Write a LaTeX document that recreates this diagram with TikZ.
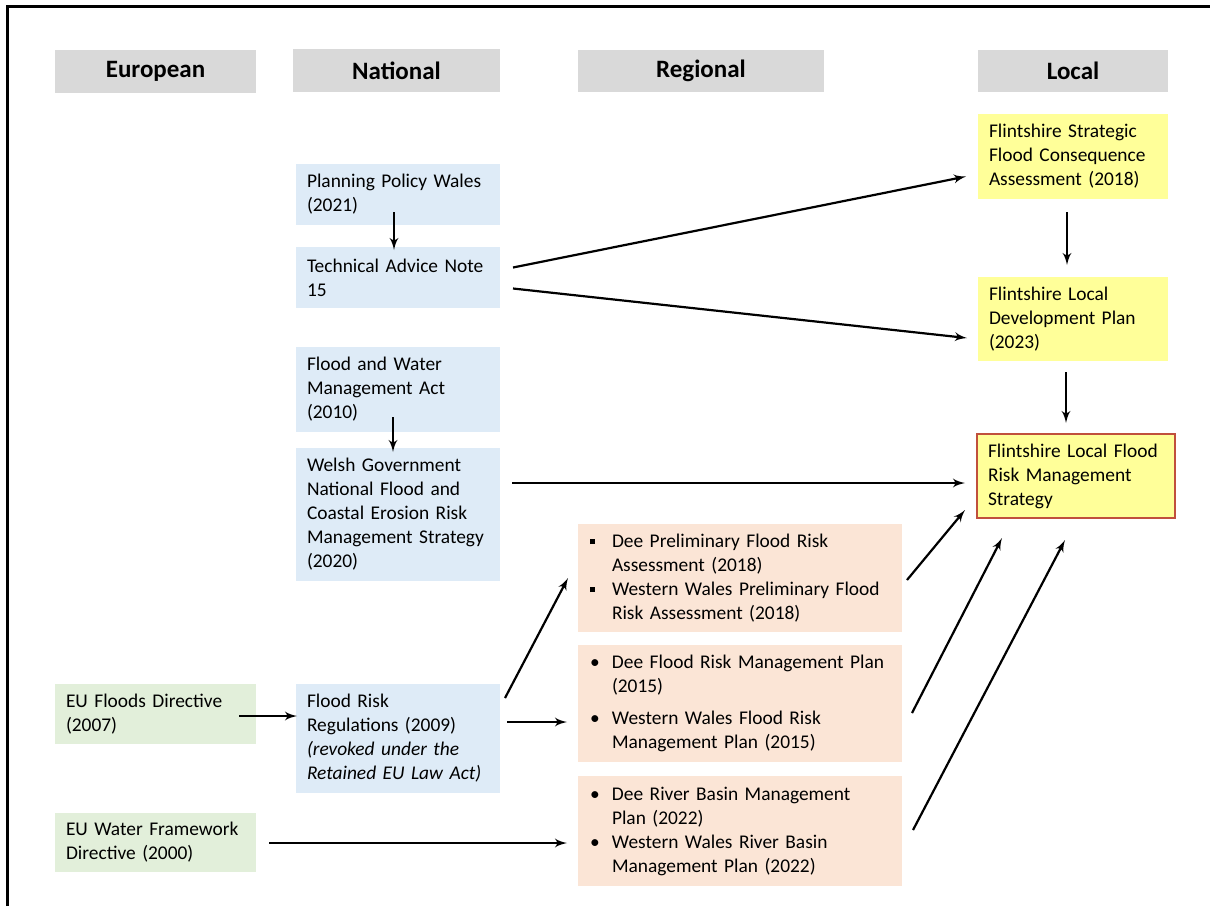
\documentclass[tikz,border=0pt]{standalone}
\usepackage{fontspec}
\setmainfont{Carlito}
\usepackage{tikz}
\usetikzlibrary{positioning}
\usetikzlibrary{arrows,calc}
\tikzset{line/.style={draw, line width=1.1pt, -latex'}}
\definecolor{hdrgray}{HTML}{D9D9D9}
\definecolor{natblue}{HTML}{DEEBF7}
\definecolor{eugreen}{HTML}{E2EFDA}
\definecolor{locyellow}{HTML}{FFFF99}
\definecolor{regpeach}{HTML}{FBE5D6}
\definecolor{stratred}{RGB}{192,80,60}
\hyphenpenalty=10000
\newcommand{\sqbul}{\rule[1.7pt]{2.6pt}{2.6pt}}
\newcommand{\rdbul}{\textbullet}
\newcommand{\regitem}[2]{\noindent\hangindent=11pt\hangafter=1\makebox[11pt][l]{#1}#2\par}

\begin{document}
\begin{tikzpicture}[x=0.5pt, y=-0.5pt]
\tikzstyle{head} = [rectangle, fill=hdrgray, font=\fontsize{12.5}{15}\selectfont\bfseries, minimum height=21.5pt, inner sep=0pt, outer sep=0pt]
\tikzstyle{box} = [rectangle, inner xsep=5.5pt, inner ysep=0pt, outer sep=0pt, align=left, font=\fontsize{9.7}{12}\selectfont]
\tikzstyle{nat} = [box, fill=natblue, text width=91pt]
\tikzstyle{eur} = [box, fill=eugreen, text width=89.5pt]
\tikzstyle{loc} = [box, fill=locyellow, text width=84pt]
\tikzstyle{reg} = [box, fill=regpeach, text width=150pt, inner xsep=6pt]

\useasboundingbox (0,0) rectangle (1210,906);
\draw[line width=1.5pt] (7,906) -- (7,6) -- (1210,6);

% headers
    \node [head, anchor=north west, minimum width=100.5pt] (eu) at (55,50) {European};
    \node [head, anchor=north west, minimum width=103.5pt] (nat) at (293,49) {National};
    \node [head, anchor=north west, minimum width=123pt, minimum height=21pt] (reg) at (578,50) {Regional};
    \node [head, anchor=north west, minimum width=95pt, minimum height=21pt] (loc) at (978,50) {Local};
% national
    \node [nat, anchor=north west, minimum height=30.5pt] (PPW) at (296,164) {Planning Policy Wales\\(2021)};
    \node [nat, below=11pt of PPW, minimum height=30.5pt] (TAN) {Technical Advice Note\\15};
    \node [nat, below=19.5pt of TAN, minimum height=42.5pt] (FWMA) {Flood and Water\\Management Act\\(2010)};
    \node [nat, below=8pt of FWMA, minimum height=66.5pt] (WG) {Welsh Government\\National Flood and\\Coastal Erosion Risk\\\mbox{Management Strategy}\\(2020)};
    \node [nat, below=51.5pt of WG, minimum height=54.5pt] (FRR) {Flood Risk\\Regulations (2009)\\\textit{(revoked under the}\\\textit{Retained EU Law Act)}};
% european
    \node [eur, anchor=north west, minimum height=30pt] (EFD) at (55,684) {EU Floods Directive\\(2007)};
    \node [eur, below=34.5pt of EFD, minimum height=29.5pt] (WFD) {EU Water Framework\\Directive (2000)};
% regional
    \node [reg, anchor=north west, minimum height=54pt] (PFRA) at (578,524) {\regitem{\sqbul}{Dee Preliminary Flood Risk\newline Assessment (2018)}\regitem{\sqbul}{Western Wales Preliminary Flood\newline Risk Assessment (2018)}};
    \node [reg, below=6.5pt of PFRA, minimum height=58.5pt] (FRMP) {\regitem{\rdbul}{Dee Flood Risk Management Plan\newline (2015)}\vspace{4pt}\regitem{\rdbul}{Western Wales Flood Risk\newline Management Plan (2015)}};
    \node [reg, below=7pt of FRMP, minimum height=55pt] (RBMP) {\regitem{\rdbul}{Dee River Basin Management\newline Plan (2022)}\regitem{\rdbul}{Western Wales River Basin\newline Management Plan (2022)}};
% local
    \node [loc, anchor=north west, minimum height=42.5pt] (SFCA) at (978,114) {Flintshire Strategic\\Flood Consequence\\Assessment (2018)};
    \node [loc, below=39pt of SFCA, minimum height=42pt] (LDP) {Flintshire Local\\Development Plan\\(2023)};
    \node [loc, anchor=north west, text width=88pt, minimum height=42pt, draw=stratred, line width=0.8pt] (LFRMS) at (977,434) {Flintshire Local Flood\\Risk Management\\Strategy};
% arrows
    \path [line] ($(PPW.south)+(-4,-13)$) -- ($(TAN.north)+(-4,3)$);
    \path [line] ($(FWMA.south)+(-5,-15)$) -- ($(WG.north)+(-5,4)$);
    \path [line] ($(TAN.east)+(13,-10)$) -- ($(SFCA.west)+(-12,20)$);
    \path [line] ($(TAN.east)+(13,11)$) -- ($(LDP.west)+(-11,19)$);
    \path [line] ($(SFCA.south)+(-6,13)$) -- ($(LDP.north)+(-6,-12)$);
    \path [line] ($(LDP.south)+(-7,11)$) -- ($(LFRMS.north)+(-10,-11)$);
    \path [line] ($(WG.east)+(12,-31.5)$) -- ($(LFRMS.west)+(-12,7)$);
    \path [line] ($(PFRA.east)+(5,2)$) -- ($(LFRMS.south west)+(-12,-8)$);
    \path [line] ($(FRMP.east)+(10,9.5)$) -- ($(LFRMS.south)+(-74,20)$);
    \path [line] ($(RBMP.east)+(11,-1)$) -- ($(LFRMS.south)+(-11,22)$);
    \path [line] ($(FRR.north east)+(5,14)$) -- ($(PFRA.west)+(-10,0)$);
    \path [line] ($(FRR.east)+(7,-16.5)$) -- ($(FRMP.west)+(-11,18.5)$);
    \path [line] ($(EFD.east)+(-17,2)$) -- ($(FRR.west)+(1,-22.5)$);
    \path [line] ($(WFD.east)+(13,0.5)$) -- ($(RBMP.west)+(-11,12)$);
\end{tikzpicture}
\end{document}
